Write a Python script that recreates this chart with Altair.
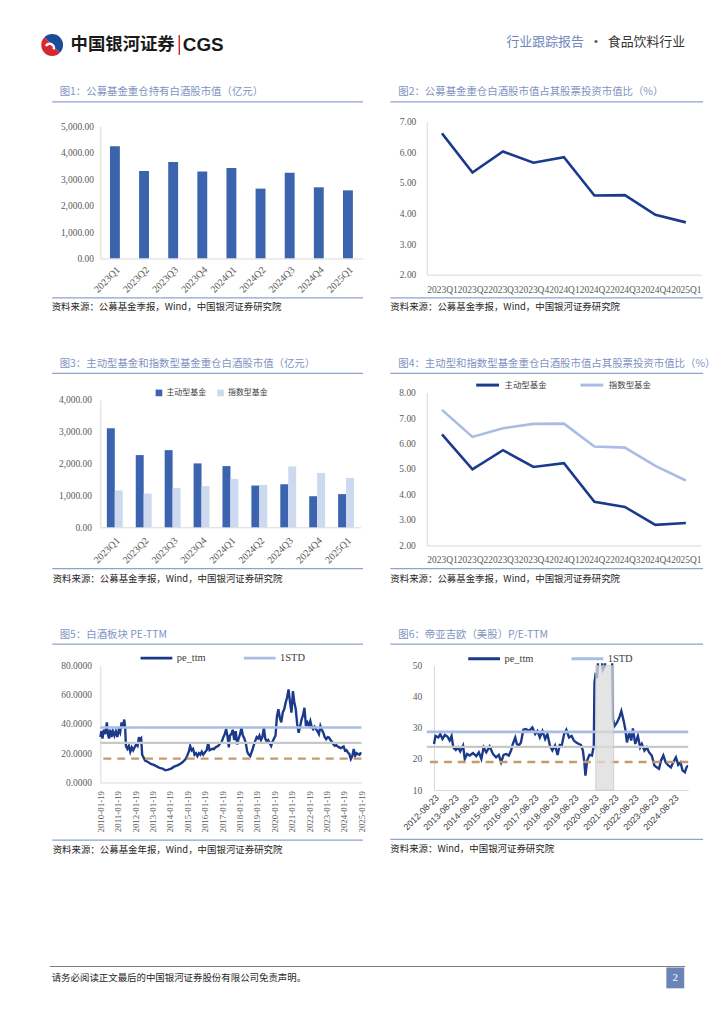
import altair as alt
import pandas as pd

# ---------------- data ----------------
quarters = ["2023Q1", "2023Q2", "2023Q3", "2023Q4", "2024Q1", "2024Q2", "2024Q3", "2024Q4", "2025Q1"]
fig1_value = [4245, 3310, 3650, 3290, 3425, 2645, 3250, 2695, 2580]
fig2_ratio = [6.62, 5.34, 6.03, 5.66, 5.84, 4.59, 4.60, 3.96, 3.71]
series3 = ["主动型基金", "指数型基金"]
fig3_active = [3105, 2265, 2420, 2005, 1920, 1310, 1350, 975, 1040]
fig3_index = [1155, 1060, 1235, 1290, 1515, 1330, 1910, 1705, 1550]
fig4_active = [6.36, 4.99, 5.74, 5.08, 5.23, 3.71, 3.51, 2.81, 2.88]
fig4_index = [7.32, 6.26, 6.60, 6.77, 6.78, 5.88, 5.84, 5.12, 4.55]

fig5_dates = ["2010-01-19", "2010-02-10", "2010-03-05", "2010-04-01", "2010-05-01", "2010-06-05", "2010-06-25", "2010-07-20",
              "2010-08-15", "2010-09-10", "2010-10-10", "2010-11-10", "2010-12-10", "2011-01-10", "2011-02-10", "2011-03-10",
              "2011-04-10", "2011-05-10", "2011-06-05", "2011-06-25", "2011-07-10", "2011-08-10", "2011-09-10", "2011-10-10",
              "2011-11-10", "2011-12-10", "2012-01-10", "2012-02-10", "2012-03-10", "2012-04-10", "2012-05-01", "2012-05-25",
              "2012-06-15", "2012-07-15", "2012-08-15", "2012-10-15", "2012-12-15", "2013-02-15", "2013-04-15", "2013-06-15",
              "2013-08-15", "2013-10-15", "2013-12-15", "2014-02-15", "2014-04-15", "2014-06-15", "2014-08-15", "2014-10-15",
              "2014-12-15", "2015-01-20", "2015-02-20", "2015-03-20", "2015-04-20", "2015-05-20", "2015-06-20", "2015-07-20",
              "2015-08-20", "2015-09-20", "2015-10-20", "2015-11-20", "2015-12-20", "2016-02-01", "2016-03-01", "2016-04-01",
              "2016-05-01", "2016-06-01", "2016-07-01", "2016-08-01", "2016-09-01", "2016-10-01", "2016-11-01", "2016-12-15",
              "2017-01-15", "2017-02-15", "2017-03-15", "2017-04-15", "2017-05-15", "2017-06-10", "2017-07-01", "2017-08-01",
              "2017-09-01", "2017-10-01", "2017-11-01", "2017-12-01", "2018-01-01", "2018-02-01", "2018-03-01", "2018-04-01",
              "2018-05-01", "2018-06-01", "2018-07-01", "2018-08-01", "2018-09-01", "2018-10-15", "2018-12-01", "2019-01-15",
              "2019-02-15", "2019-03-15", "2019-04-15", "2019-05-15", "2019-06-15", "2019-07-15", "2019-08-15", "2019-09-15",
              "2019-10-15", "2019-11-15", "2019-12-15", "2020-01-15", "2020-02-15", "2020-03-15", "2020-04-15", "2020-05-15",
              "2020-06-15", "2020-07-15", "2020-08-15", "2020-09-15", "2020-10-15", "2020-11-15", "2020-12-15", "2021-01-15",
              "2021-02-15", "2021-03-15", "2021-04-15", "2021-05-15", "2021-06-15", "2021-07-15", "2021-08-15", "2021-09-15",
              "2021-10-15", "2021-11-15", "2021-12-15", "2022-01-15", "2022-02-15", "2022-03-15", "2022-04-15", "2022-05-15",
              "2022-06-15", "2022-07-15", "2022-08-15", "2022-09-15", "2022-10-15", "2022-11-15", "2022-12-15", "2023-01-15",
              "2023-02-15", "2023-03-15", "2023-04-15", "2023-05-15", "2023-06-15", "2023-07-15", "2023-08-15", "2023-09-15",
              "2023-10-15", "2023-11-15", "2023-12-15", "2024-01-15", "2024-02-15", "2024-03-15", "2024-04-15", "2024-05-15",
              "2024-06-15", "2024-07-15", "2024-08-15", "2024-09-15", "2024-10-15", "2024-11-15", "2024-12-15", "2025-01-15"]
fig5_pe = [31, 35, 30, 36, 33, 41, 33, 30,
           36, 31, 35, 32, 35, 31, 36, 34,
           41, 38, 43, 37, 25, 23, 25, 21,
           24, 22, 24, 26, 25, 31, 29, 30,
           19, 17, 15, 14, 12.7, 12, 11, 10,
           9.5, 8.3, 8.8, 9.5, 10.8, 11.5, 12.5, 14,
           16, 18.5, 21, 25, 22, 23, 19, 20,
           18, 20, 19, 21, 19, 21, 22, 27,
           22, 22.5, 23, 22.8, 24, 24.5, 25, 27,
           28, 31, 33, 36.5, 31, 24, 32, 33,
           36, 29, 35, 26, 30, 33, 37.5, 32,
           30, 27, 21, 19, 18, 22, 27, 31,
           30, 32, 29, 31, 37.5, 30, 28, 29,
           27, 25, 28, 30, 32, 45, 50, 44,
           41, 47.7, 50, 54.5, 58, 63.5, 55, 47.7,
           62.4, 55, 50, 40, 34, 38, 43, 46,
           51, 38.6, 41, 39, 42, 38, 36.4, 38,
           36.4, 35, 33, 38.6, 36, 34, 31, 29.6,
           31, 30.7, 29, 27.8, 26, 25, 25.5, 24.5,
           24, 23.5, 24, 24.6, 21.7, 22, 20.5, 19.4,
           16, 18, 22.8, 18.3, 20, 19.4, 19, 20.6]
fig5_plus1std, fig5_mean, fig5_minus1std = 37.5, 27.1, 16.3

fig6_dates = ["2012-08-23", "2012-09-20", "2012-11-10", "2012-12-15", "2013-01-25", "2013-03-10", "2013-04-25", "2013-06-05",
              "2013-07-10", "2013-08-10", "2013-09-25", "2013-11-05", "2013-12-15", "2014-02-05", "2014-03-08", "2014-04-20",
              "2014-06-05", "2014-08-05", "2014-10-05", "2014-11-20", "2015-01-05", "2015-02-15", "2015-04-05", "2015-06-05",
              "2015-08-05", "2015-10-01", "2015-11-20", "2016-01-01", "2016-02-15", "2016-04-01", "2016-05-20", "2016-07-01",
              "2016-08-01", "2016-09-15", "2016-10-15", "2016-11-20", "2016-12-28", "2017-02-10", "2017-03-28", "2017-05-28",
              "2017-07-25", "2017-09-15", "2017-10-25", "2017-12-08", "2018-01-25", "2018-03-15", "2018-04-25", "2018-06-10",
              "2018-07-25", "2018-09-12", "2018-10-28", "2018-12-06", "2019-01-12", "2019-02-25", "2019-04-06", "2019-05-25",
              "2019-07-12", "2019-08-22", "2019-10-05", "2019-11-22", "2019-12-28", "2020-02-03", "2020-03-01", "2020-03-20",
              "2020-04-20", "2020-06-01", "2020-07-18", "2020-08-20", "2020-09-01", "2020-09-20", "2020-10-20", "2020-11-20",
              "2020-12-20", "2021-02-01", "2021-03-08", "2021-04-20", "2021-07-18", "2021-08-05", "2021-09-05", "2021-10-18",
              "2021-11-28", "2022-01-05", "2022-02-17", "2022-03-18", "2022-04-17", "2022-05-30", "2022-07-05", "2022-08-04",
              "2022-09-16", "2022-11-03", "2022-12-15", "2023-01-15", "2023-03-03", "2023-04-15", "2023-05-27", "2023-07-14",
              "2023-09-01", "2023-10-13", "2023-11-24", "2023-12-31", "2024-02-11", "2024-03-25", "2024-05-12", "2024-06-29",
              "2024-08-10", "2024-09-28", "2024-11-09", "2024-12-21", "2025-01-26", "2025-03-10", "2025-04-09", "2025-05-08"]
fig6_pe = [24.8, 27.4, 26.9, 28.0, 26.4, 27.7, 27.2, 25.9,
           27.4, 23.7, 22.9, 23.7, 22.4, 24.3, 20.0, 21.6,
           21.1, 21.9, 20.9, 22.1, 20.0, 23.7, 22.1, 24.0,
           21.6, 20.5, 21.3, 18.9, 21.3, 21.6, 21.1, 22.7,
           24.8, 26.9, 24.8, 24.3, 25.3, 29.4, 29.6, 29.0,
           30.1, 28.0, 29.0, 26.9, 29.0, 26.4, 28.0, 24.3,
           22.7, 24.3, 21.3, 24.5, 24.3, 28.0, 29.4, 26.9,
           27.4, 25.9, 25.3, 24.8, 24.5, 22.7, 18.7, 14.6,
           19.5, 21.3, 21.1, 24.3, 44.5, 47.1, 46.6, 55.0,
           55.0, 48.7, 49.8, 55.0, 55.0, 32.8, 30.6, 31.7,
           33.3, 35.4, 32.2, 29.6, 25.3, 28.5, 25.9, 29.8,
           24.8, 27.4, 23.7, 24.8, 22.7, 23.7, 22.1, 21.1,
           17.9, 17.3, 16.8, 19.5, 21.1, 18.9, 17.9, 17.3,
           18.9, 20.5, 18.1, 18.9, 16.3, 15.7, 17.3, 17.9]
fig6_plus1std, fig6_mean, fig6_minus1std = 28.7, 23.9, 19.0
fig6_band = ["2020-09-25", "2021-08-18"]

titles = ["图1：公募基金重仓持有白酒股市值（亿元）",
          "图2：公募基金重仓白酒股市值占其股票投资市值比（%）",
          "图3：主动型基金和指数型基金重仓白酒股市值（亿元）",
          "图4：主动型和指数型基金重仓白酒股市值占其股票投资市值比（%）",
          "图5：白酒板块 PE-TTM",
          "图6：帝亚吉欧（美股）P/E-TTM"]
src_fund = "资料来源：公募基金季报，Wind，中国银河证券研究院"
src_fig5 = "资料来源：公募基金年报，Wind，中国银河证券研究院"
src_fig6 = "资料来源：Wind，中国银河证券研究院"

# ---------------- style ----------------
CJK = "Noto Sans CJK SC"
SERIF = "Liberation Serif"
SANS = "Liberation Sans"
TITLE_C = "#7F93C1"
RULE_C = "#8EA2CE"
BAR_C = "#3C63AE"
BAR_LIGHT = "#CCD9EF"
NAVY = "#1B3A8C"
LIGHT = "#A9BDE4"
GREY = "#C8C8C8"
TAN = "#C49C6C"
AX = "#D9D9D9"


def one():
    return pd.DataFrame({"d": [0]})


def txt(x, y, s, size=10.0, color="#333333", font=CJK, align="left", weight="normal"):
    return alt.Chart(one()).mark_text(align=align, baseline="middle", font=font, fontSize=size,
                                      color=color, fontWeight=weight).encode(
        x=alt.value(x), y=alt.value(y), text=alt.value(s))


def hline(x1, x2, y, color=RULE_C, w=1.3):
    return alt.Chart(one()).mark_rule(color=color, strokeWidth=w).encode(
        x=alt.value(x1), x2=alt.value(x2), y=alt.value(y))


def deco(o, title, tx, ty, lx1, lx2, uy, by, src, sx, sy):
    ox, oy = o
    return [txt(tx - ox, ty - oy, title, 10.5, TITLE_C),
            hline(lx1 - ox, lx2 - ox, uy - oy),
            hline(lx1 - ox, lx2 - ox, by - oy),
            txt(sx - ox, sy - oy, src, 9.5, "#262626")]


def qaxis_x(angle, pad, size, z=0):
    return alt.Axis(labelAngle=angle, labelFont=SERIF, labelFontSize=size, labelPadding=pad,
                    labelOverlap=False, labelColor="#595959", zindex=z)


O1, O2 = (101, 118.3), (416.7, 118.3)
O3, O4 = (101, 391), (416.7, 391)
O5, O6 = (101, 663.7), (416.7, 663.7)

# ---------------- panel 1 ----------------
df1 = pd.DataFrame({"q": quarters, "v": fig1_value})
bars1 = alt.Chart(df1).mark_bar(color=BAR_C).encode(
    x=alt.X("q:N", sort=quarters, title=None,
            scale=alt.Scale(paddingInner=0.66, paddingOuter=0.33),
            axis=qaxis_x(-45, 6, 10, 1)),
    y=alt.Y("v:Q", title=None,
            scale=alt.Scale(domain=[0, 5000], range=[137.7, 4.7], nice=False),
            axis=alt.Axis(values=[0, 1000, 2000, 3000, 4000, 5000], format=",.2f", labelPadding=7, zindex=1)),
)
bg = alt.Chart(one()).mark_rect(color="white").encode(
    x=alt.value(-93), x2=alt.value(613), y=alt.value(-110.3), y2=alt.value(895.7))
ox, oy = O1
header = [
    alt.Chart(one()).mark_arc(theta=2.36, theta2=5.50, radius=11, color="#D7282F").encode(
        x=alt.value(52.5 - ox), y=alt.value(41 - oy)),
    alt.Chart(one()).mark_arc(theta=5.50, theta2=8.64, radius=11, color="#1C4B9C").encode(
        x=alt.value(52.5 - ox), y=alt.value(41 - oy)),
    alt.Chart(one()).mark_arc(theta=5.2, theta2=8.2, radius=5.5, radius2=3, color="white").encode(
        x=alt.value(50 - ox), y=alt.value(44 - oy)),
    txt(71 - ox, 41 - oy, "中国银河证券", 17.5, "#1a1a1a", CJK, "left", "bold"),
    alt.Chart(one()).mark_rule(color="#D7282F", strokeWidth=1.5).encode(
        x=alt.value(180.5 - ox), y=alt.value(31 - oy), y2=alt.value(51 - oy)),
    txt(184 - ox, 41.5 - oy, "CGS", 19, "#1a1a1a", SANS, "left", "bold"),
    txt(510 - ox, 38 - oy, "行业跟踪报告", 13, "#6F86BA"),
    txt(600 - ox, 38 - oy, "•", 11, "#44546A", SANS, "center"),
    txt(612 - ox, 38 - oy, "食品饮料行业", 13, "#333333"),
    hline(50 - ox, 690 - ox, 969 - oy, "#7F7F7F", 1),
    txt(52 - ox, 981 - oy, "请务必阅读正文最后的中国银河证券股份有限公司免责声明。", 9.5, "#262626"),
    alt.Chart(one()).mark_rect(color="#6B84B8").encode(
        x=alt.value(671 - ox), x2=alt.value(689 - ox), y=alt.value(970 - oy), y2=alt.value(991 - oy)),
    txt(680 - ox, 980.5 - oy, "2", 11, "white", SERIF, "center"),
]
p1 = alt.layer(bg, *header, bars1,
               *deco(O1, titles[0], 60, 88, 52.5, 365.5, 98.3, 295.7, src_fund, 52, 305)
               ).properties(width=264, height=137.7)

# ---------------- panel 2 ----------------
df2 = pd.DataFrame({"q": quarters, "v": fig2_ratio})
line2 = alt.Chart(df2).mark_line(color=NAVY, strokeWidth=2.6).encode(
    x=alt.X("q:N", sort=quarters, title=None, scale=alt.Scale(type="point", padding=0.5),
            axis=qaxis_x(0, 10, 9.5)),
    y=alt.Y("v:Q", title=None, scale=alt.Scale(domain=[2, 7], nice=False),
            axis=alt.Axis(values=[2, 3, 4, 5, 6, 7], format=".2f", labelPadding=11)),
)
p2 = alt.layer(line2,
               *deco(O2, titles[1], 388, 88, 380, 695, 98.3, 295.7, src_fund, 380, 305)
               ).properties(width=276.3, height=154)

# ---------------- panel 3 ----------------
df3 = pd.DataFrame({"q": quarters * 2,
                    "s": [series3[0]] * 9 + [series3[1]] * 9,
                    "v": fig3_active + fig3_index})
bars3 = alt.Chart(df3).mark_bar().encode(
    x=alt.X("q:N", sort=quarters, title=None,
            scale=alt.Scale(paddingInner=0.45, paddingOuter=0.225),
            axis=qaxis_x(-45, 8, 10)),
    xOffset=alt.XOffset("s:N", sort=series3, scale=alt.Scale(paddingInner=0, paddingOuter=0)),
    y=alt.Y("v:Q", title=None,
            scale=alt.Scale(domain=[0, 4000], range=[135.7, 7.3], nice=False),
            axis=alt.Axis(values=[0, 1000, 2000, 3000, 4000], format=",.2f", labelPadding=9)),
    color=alt.Color("s:N", sort=series3,
                    scale=alt.Scale(domain=series3, range=[BAR_C, BAR_LIGHT]),
                    legend=alt.Legend(orient="none", legendX=55, legendY=-3.6, direction="horizontal",
                                      title=None, symbolType="square", symbolSize=45,
                                      symbolStrokeWidth=0, labelFont=CJK, labelFontSize=8,
                                      labelColor="#404040", columnPadding=10, labelOffset=3.5)),
)
p3 = alt.layer(bars3,
               *deco(O3, titles[2], 60, 362.7, 52.5, 365.5, 371.7, 568.3, src_fund, 53, 579)
               ).properties(width=262, height=135.7)

# ---------------- panel 4 ----------------
df4 = pd.DataFrame({"q": quarters * 2,
                    "s": [series3[0]] * 9 + [series3[1]] * 9,
                    "v": fig4_active + fig4_index})
line4 = alt.Chart(df4).mark_line(strokeWidth=2.6).encode(
    x=alt.X("q:N", sort=quarters, title=None, scale=alt.Scale(type="point", padding=0.5),
            axis=qaxis_x(0, 9, 9.5)),
    y=alt.Y("v:Q", title=None, scale=alt.Scale(domain=[2, 8], nice=False),
            axis=alt.Axis(values=[2, 3, 4, 5, 6, 7, 8], format=".2f", labelPadding=11.5)),
    color=alt.Color("s:N", sort=series3,
                    scale=alt.Scale(domain=series3, range=[NAVY, LIGHT]),
                    legend=alt.Legend(orient="none", legendX=48.3, legendY=-20.5, direction="horizontal",
                                      title=None, symbolType="stroke", symbolSize=529,
                                      symbolStrokeWidth=3, labelFont=CJK, labelFontSize=8.5,
                                      labelColor="#404040", columnPadding=27, labelOffset=4)),
)
p4 = alt.layer(line4,
               *deco(O4, titles[3], 388, 362.7, 380, 695, 371.7, 568.3, src_fund, 380, 579)
               ).properties(width=276.3, height=154)

# ---------------- panel 5 ----------------
pe_series = ["pe_ttm", "1STD"]
df5 = pd.DataFrame({"date": fig5_dates, "v": fig5_pe, "s": ["pe_ttm"] * len(fig5_dates)})
x5 = alt.X("date:T", title=None,
           scale=alt.Scale(domain=[alt.DateTime(year=2010, month=1, date=19),
                                   alt.DateTime(year=2025, month=1, date=25)]),
           axis=alt.Axis(values=[alt.DateTime(year=y, month=1, date=19) for y in range(2010, 2026)],
                         format="%Y-%m-%d", labelAngle=-90, labelFont=SERIF, labelFontSize=9,
                         labelPadding=8, labelColor="#595959", labelOverlap=False))
y5 = alt.Y("v:Q", title=None, scale=alt.Scale(domain=[0, 80], range=[120, 2], nice=False),
           axis=alt.Axis(values=[0, 20, 40, 60, 80], format=".4f", labelPadding=9))
c5 = alt.Color("s:N", scale=alt.Scale(domain=pe_series, range=[NAVY, LIGHT]),
               legend=alt.Legend(orient="none", legendX=39, legendY=-23, direction="horizontal",
                                 title=None, symbolType="stroke", symbolSize=1024, symbolStrokeWidth=3,
                                 labelFont=SERIF, labelFontSize=10.5, labelColor="#404040",
                                 columnPadding=31, labelOffset=3))
pe5 = alt.Chart(df5).mark_line(strokeWidth=2.4).encode(x=x5, y=y5, color=c5)
std5 = alt.Chart(pd.DataFrame({"v": [fig5_plus1std], "s": ["1STD"]})).mark_rule(strokeWidth=2.6).encode(y=y5, color=c5)
mean5 = alt.Chart(pd.DataFrame({"v": [fig5_mean]})).mark_rule(color=GREY, strokeWidth=2.2).encode(y=y5)
low5 = alt.Chart(pd.DataFrame({"v": [fig5_minus1std]})).mark_rule(color=TAN, strokeWidth=2.4,
                                                                  strokeDash=[8, 6]).encode(y=y5)
p5 = alt.layer(pe5, std5, mean5, low5,
               *deco(O5, titles[4], 60, 635, 52.5, 365.5, 644.3, 841.7, src_fig5, 53, 851.5)
               ).properties(width=263, height=120)

# ---------------- panel 6 ----------------
df6 = pd.DataFrame({"date": fig6_dates, "v": fig6_pe, "s": ["pe_ttm"] * len(fig6_dates)})
x6 = alt.X("date:T", title=None,
           scale=alt.Scale(domain=[alt.DateTime(year=2012, month=8, date=23),
                                   alt.DateTime(year=2025, month=5, date=10)], range=[7.3, 263.3]),
           axis=alt.Axis(values=[alt.DateTime(year=y, month=8, date=23) for y in range(2012, 2025)],
                         format="%Y-%m-%d", labelAngle=-45, labelFont=SANS, labelFontSize=9,
                         labelPadding=3, labelColor="#404040", labelOverlap=False))
y6 = alt.Y("v:Q", title=None, scale=alt.Scale(domain=[10, 50], range=[127.6, 2.3], nice=False),
           axis=alt.Axis(values=[10, 20, 30, 40, 50], format="d", labelPadding=12.3, offset=-7.3))
c6 = alt.Color("s:N", scale=alt.Scale(domain=pe_series, range=[NAVY, LIGHT]),
               legend=alt.Legend(orient="none", legendX=40.3, legendY=-22.4, direction="horizontal",
                                 title=None, symbolType="stroke", symbolSize=1024, symbolStrokeWidth=3,
                                 labelFont=SERIF, labelFontSize=10.5, labelColor="#404040",
                                 columnPadding=31, labelOffset=3))
pe6 = alt.Chart(df6).mark_line(strokeWidth=2.4, clip=True).encode(x=x6, y=y6, color=c6)
std6 = alt.Chart(pd.DataFrame({"v": [fig6_plus1std], "s": ["1STD"]})).mark_rule(strokeWidth=2.6).encode(y=y6, color=c6)
mean6 = alt.Chart(pd.DataFrame({"v": [fig6_mean]})).mark_rule(color=GREY, strokeWidth=2.2).encode(y=y6)
low6 = alt.Chart(pd.DataFrame({"v": [fig6_minus1std]})).mark_rule(color=TAN, strokeWidth=2.4,
                                                                  strokeDash=[8, 6]).encode(y=y6)
band6 = alt.Chart(pd.DataFrame({"date": [fig6_band[0]], "date2": [fig6_band[1]], "v": [50], "v2": [10]})).mark_rect(
    color="#DCDCDC", opacity=0.75, stroke="#C4C4C4", strokeWidth=1).encode(
    x=x6, x2="date2:T", y=y6, y2="v2:Q")
p6 = alt.layer(pe6, std6, mean6, low6, band6,
               *deco(O6, titles[5], 388, 635, 380, 695, 644.3, 841, src_fig6, 380, 850.5)
               ).properties(width=263.3, height=127.6)

chart = alt.concat(p1, p2, p3, p4, p5, p6, columns=2, spacing={"row": 118.7, "column": 51.7},
                   bounds="flush", align="all").resolve_scale(color="independent").properties(
    padding=0, background="white"
).configure_view(stroke=None).configure_axis(
    ticks=False, grid=False, domainColor=AX, domainWidth=1, labelColor="#595959",
    labelFont=SERIF, labelFontSize=9.5, titleFontSize=0
)

chart.save("out.html", embed_options={"renderer": "svg", "actions": False})
